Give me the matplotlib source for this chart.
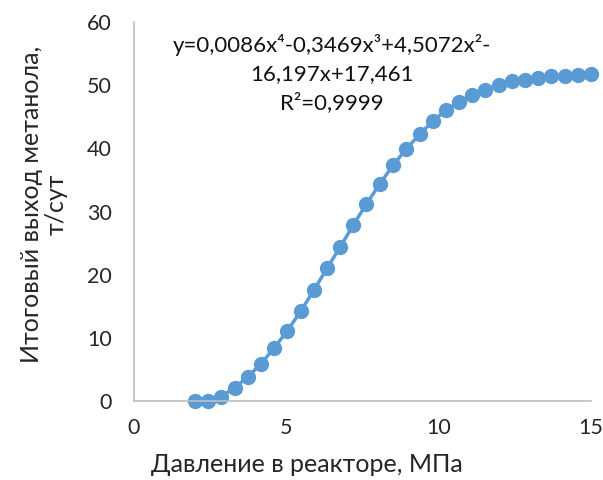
import matplotlib.pyplot as plt

plt.rcParams['font.family'] = ['Lato', 'DejaVu Sans']

# pressure, MPa
pressure = [2.0, 2.43, 2.87, 3.3, 3.73, 4.17, 4.6, 5.03, 5.47, 5.9, 6.33,
            6.77, 7.2, 7.63, 8.07, 8.5, 8.93, 9.37, 9.8, 10.23, 10.67,
            11.1, 11.53, 11.97, 12.4, 12.83, 13.27, 13.7, 14.13, 14.57, 15.0]
# methanol output, t/day
output = [0.0, 0.0, 0.7, 2.1, 3.8, 5.9, 8.4, 11.1, 14.2, 17.5, 21.0,
          24.4, 27.9, 31.2, 34.4, 37.3, 39.9, 42.2, 44.3, 46.0, 47.4,
          48.5, 49.3, 50.1, 50.6, 50.8, 51.1, 51.4, 51.5, 51.6, 51.7]

x_ticks = [0, 5, 10, 15]
y_ticks = [0, 10, 20, 30, 40, 50, 60]

color = '#5B9BD5'

fig = plt.figure(figsize=(6.03, 4.8), dpi=100)
ax = fig.add_axes([0.2222, 0.1646, 0.758, 0.7894])

ax.plot(pressure, output, color=color, lw=2.5, marker='o', ms=10,
        markeredgecolor=color, markerfacecolor=color, clip_on=False)

ax.set_xlim(0, 15)
ax.set_ylim(0, 60)
ax.set_xticks(x_ticks)
ax.set_yticks(y_ticks)
ax.tick_params(length=0, labelsize=15.5, colors='#262626')
ax.tick_params(axis='y', pad=16)
ax.tick_params(axis='x', pad=12)

for s in ['top', 'right']:
    ax.spines[s].set_visible(False)
for s in ['left', 'bottom']:
    ax.spines[s].set_color('#BFBFBF')
    ax.spines[s].set_linewidth(1.2)

ax.set_xlabel('Давление в реакторе, МПа', fontsize=18, color='#262626', va='center')
ax.xaxis.set_label_coords(0.379, -0.168)
ax.set_ylabel('Итоговый выход метанола,\nт/сут', fontsize=18, color='#262626',
              linespacing=1.1, va='center')
ax.yaxis.set_label_coords(-0.197, 0.52)

ax.text(6.5, 51.8, 'y=0,0086x⁴-0,3469x³+4,5072x²-\n16,197x+17,461\nR²=0,9999',
        ha='center', va='center', fontsize=16, color='#111111', linespacing=1.5)

fig.savefig('out.png', dpi=100)
